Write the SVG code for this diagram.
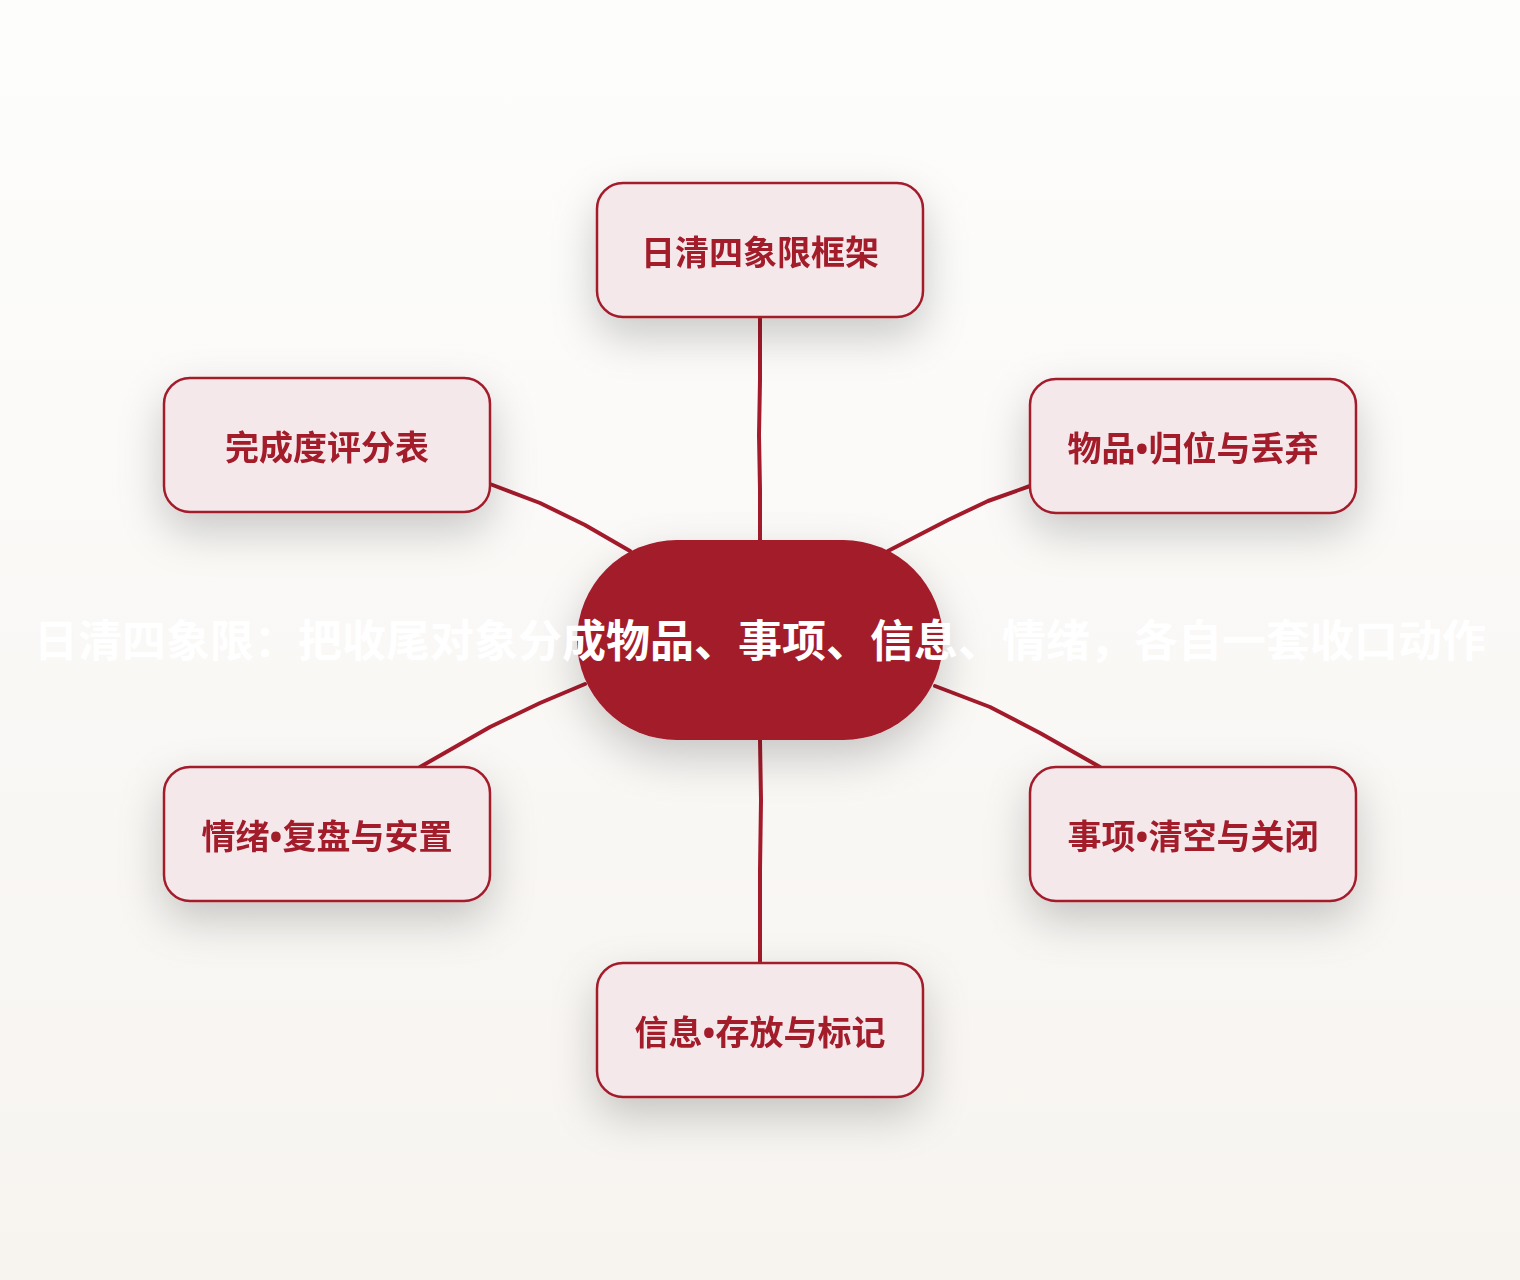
<svg xmlns="http://www.w3.org/2000/svg" width="1520" height="1280" viewBox="0 0 1520 1280">
<defs>
<linearGradient id="bg" x1="0" y1="0" x2="0" y2="1">
<stop offset="0" stop-color="#fdfdfc"/>
<stop offset="1" stop-color="#f7f4f0"/>
</linearGradient>
<filter id="sh" x="-40%" y="-40%" width="180%" height="200%">
<feDropShadow dx="0" dy="18" stdDeviation="22" flood-color="#000" flood-opacity="0.2"/>
</filter>
<style>
.node rect{fill:#f4e8ea;stroke:#a31a2b;stroke-width:2.5}
.node text{font-family:"Noto Sans","Noto Sans CJK SC",sans-serif;font-weight:700;font-size:34px;fill:#a31a2b;text-anchor:middle}
.edge{fill:none;stroke:#a31a2b;stroke-width:4;stroke-linecap:round;stroke-linejoin:round}
.center text{font-family:"Noto Sans CJK SC","Noto Sans",sans-serif;font-weight:700;font-size:44px;fill:#ffffff;text-anchor:middle}
</style>
</defs>
<rect x="0" y="0" width="1520" height="1280" fill="url(#bg)"/>
<g id="connectors">
<path class="edge" d="M760,317 L760,380 L759,435 L760,490 L760,540"/>
<path class="edge" d="M1030,486 L988,501 L948,520 L888,551"/>
<path class="edge" d="M490,484 L540,503 L585,525 L630,551"/>
<path class="edge" d="M585,684 L540,703 L490,727 L420,767"/>
<path class="edge" d="M935,686 L990,707 L1040,733 L1100,767"/>
<path class="edge" d="M760,740 L761,800 L760,870 L760,963"/>
</g>
<g id="n-top" class="node" filter="url(#sh)">
<rect x="597" y="183" width="326" height="134" rx="26"/>
<text x="760" y="265">日清四象限框架</text>
</g>
<g id="n-tr" class="node" filter="url(#sh)">
<rect x="1030" y="379" width="326" height="134" rx="26"/>
<text x="1193" y="461">物品•归位与丢弃</text>
</g>
<g id="n-tl" class="node" filter="url(#sh)">
<rect x="164" y="378" width="326" height="134" rx="26"/>
<text x="327" y="460">完成度评分表</text>
</g>
<g id="n-bl" class="node" filter="url(#sh)">
<rect x="164" y="767" width="326" height="134" rx="26"/>
<text x="327" y="849">情绪•复盘与安置</text>
</g>
<g id="n-br" class="node" filter="url(#sh)">
<rect x="1030" y="767" width="326" height="134" rx="26"/>
<text x="1193" y="849">事项•清空与关闭</text>
</g>
<g id="n-bottom" class="node" filter="url(#sh)">
<rect x="597" y="963" width="326" height="134" rx="26"/>
<text x="760" y="1045">信息•存放与标记</text>
</g>
<g id="center" class="center">
<rect x="577" y="540" width="366" height="200" rx="100" fill="#a31a2b" filter="url(#sh)"/>
<text x="760" y="657">日清四象限：把收尾对象分成物品、事项、信息、情绪，各自一套收口动作</text>
</g>
</svg>
